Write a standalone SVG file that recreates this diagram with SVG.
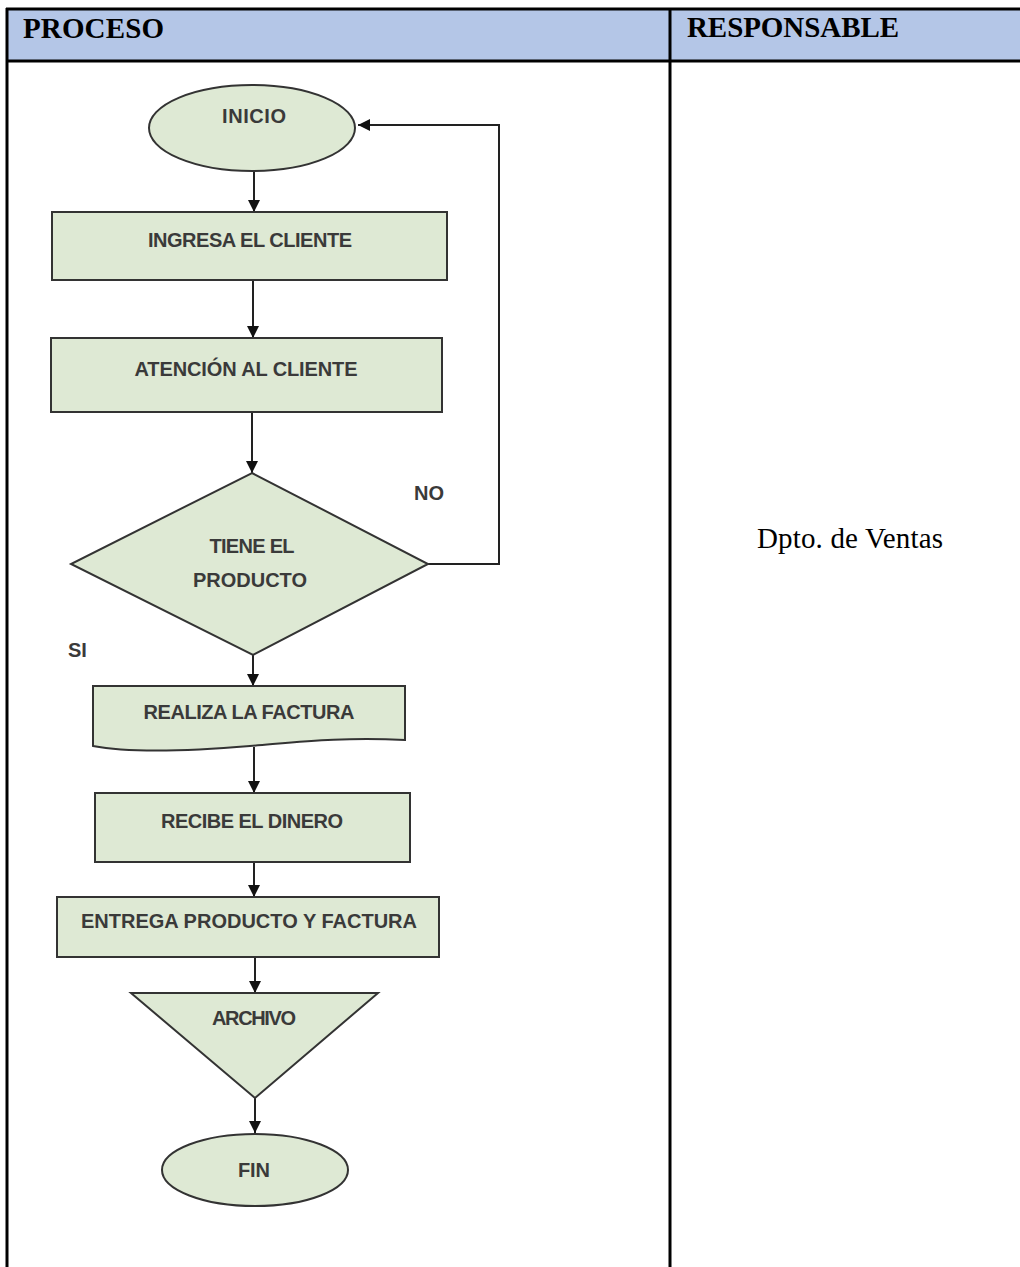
<svg xmlns="http://www.w3.org/2000/svg" width="1020" height="1267" viewBox="0 0 1020 1267">
<style>
.tbl{stroke:#000;stroke-width:3;fill:none}
.hdr{font-family:"Liberation Serif","Times New Roman",serif;font-weight:bold;font-size:29px;fill:#000}
.resp{font-family:"Liberation Serif","Times New Roman",serif;font-size:29px;fill:#000}
.shape{fill:#DEE9D4;stroke:#333;stroke-width:2}
.lbl{font-family:"Liberation Sans",Arial,sans-serif;font-size:20px;font-weight:bold;fill:#3a3a3a;text-anchor:middle}
.side{font-family:"Liberation Sans",Arial,sans-serif;font-size:20px;font-weight:bold;fill:#3a3a3a}
.conn{stroke:#222;stroke-width:2;fill:none}
</style>
<defs>
<marker id="arr" viewBox="0 0 10 10" refX="10" refY="5" markerWidth="6.5" markerHeight="6" orient="auto" markerUnits="strokeWidth">
<path d="M0,0 L10,5 L0,10 Z" fill="#111"/>
</marker>
</defs>
<rect width="1020" height="1267" fill="#fff"/>
<g id="table">
<rect x="7" y="9" width="1013" height="52" fill="#B4C6E7"/>
<line class="tbl" x1="6" y1="9" x2="1020" y2="9"/>
<line class="tbl" x1="6" y1="61" x2="1020" y2="61"/>
<line class="tbl" x1="7" y1="8" x2="7" y2="1267"/>
<line class="tbl" x1="670" y1="8" x2="670" y2="1267"/>
<text class="hdr" x="23" y="38" textLength="141">PROCESO</text>
<text class="hdr" x="687" y="37" textLength="212">RESPONSABLE</text>
<text class="resp" x="757" y="548" textLength="186">Dpto. de Ventas</text>
</g>
<g id="connectors">
<line class="conn" x1="254" y1="171" x2="254" y2="212" marker-end="url(#arr)"/>
<line class="conn" x1="253" y1="280" x2="253" y2="338" marker-end="url(#arr)"/>
<line class="conn" x1="252" y1="412" x2="252" y2="473" marker-end="url(#arr)"/>
<polyline class="conn" points="428,564 499,564 499,125 358,125" marker-end="url(#arr)"/>
<line class="conn" x1="253" y1="655" x2="253" y2="686" marker-end="url(#arr)"/>
<line class="conn" x1="254" y1="747" x2="254" y2="793" marker-end="url(#arr)"/>
<line class="conn" x1="254" y1="862" x2="254" y2="897" marker-end="url(#arr)"/>
<line class="conn" x1="255" y1="957" x2="255" y2="993" marker-end="url(#arr)"/>
<line class="conn" x1="255" y1="1098" x2="255" y2="1133" marker-end="url(#arr)"/>
<text class="side" x="414" y="500">NO</text>
<text class="side" x="68" y="657">SI</text>
</g>
<g id="inicio">
<ellipse class="shape" cx="252" cy="128" rx="103" ry="43"/>
<text class="lbl" x="254" y="123" textLength="64">INICIO</text>
</g>
<g id="ingresa">
<rect class="shape" x="52" y="212" width="395" height="68"/>
<text class="lbl" x="250" y="247" textLength="204">INGRESA EL CLIENTE</text>
</g>
<g id="atencion">
<rect class="shape" x="51" y="338" width="391" height="74"/>
<text class="lbl" x="246" y="376" textLength="223">ATENCIÓN AL CLIENTE</text>
</g>
<g id="decision">
<polygon class="shape" points="252,473 428,564 253,655 71,564"/>
<text class="lbl" x="252" y="553" textLength="85">TIENE EL</text>
<text class="lbl" x="250" y="587" textLength="114">PRODUCTO</text>
</g>
<g id="factura">
<path class="shape" d="M93,686 H405 V740 C340,737 300,742 250,746 C190,751 130,753 93,746 Z"/>
<text class="lbl" x="249" y="719" textLength="211">REALIZA LA FACTURA</text>
</g>
<g id="dinero">
<rect class="shape" x="95" y="793" width="315" height="69"/>
<text class="lbl" x="252" y="828" textLength="182">RECIBE EL DINERO</text>
</g>
<g id="entrega">
<rect class="shape" x="57" y="897" width="382" height="60"/>
<text class="lbl" x="249" y="928" textLength="336">ENTREGA PRODUCTO Y FACTURA</text>
</g>
<g id="archivo">
<polygon class="shape" points="131,993 378,993 255,1098"/>
<text class="lbl" x="254" y="1025" textLength="84">ARCHIVO</text>
</g>
<g id="fin">
<ellipse class="shape" cx="255" cy="1170" rx="93" ry="36"/>
<text class="lbl" x="254" y="1177" textLength="32">FIN</text>
</g>
</svg>
